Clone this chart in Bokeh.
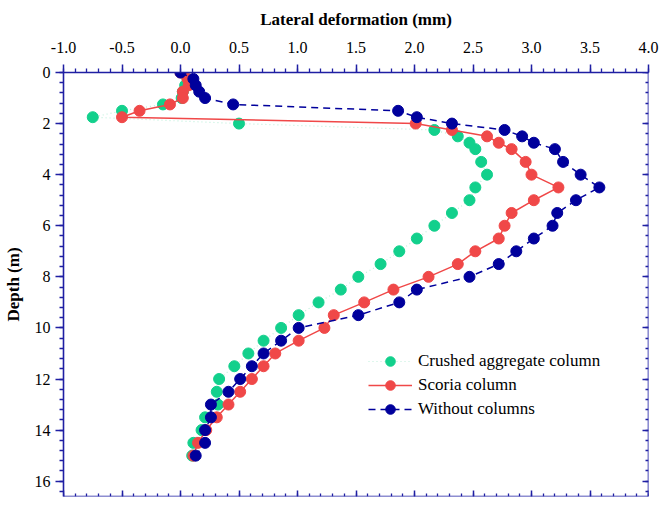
from bokeh.plotting import figure
from bokeh.models import (Range1d, LinearAxis, FixedTicker, Legend, LegendItem,
                          NumeralTickFormatter)
from bokeh.embed import file_html
from bokeh.resources import INLINE

# ---- data ----
depth = [0, 0.25, 0.5, 0.75, 1.0, 1.25, 1.5, 1.75, 2.0, 2.25, 2.5, 2.75, 3.0,
         3.5, 4.0, 4.5, 5.0, 5.5, 6.0, 6.5, 7.0, 7.5, 8.0, 8.5, 9.0, 9.5,
         10.0, 10.5, 11.0, 11.5, 12.0, 12.5, 13.0, 13.5, 14.0, 14.5, 15.0]

crushed = [0.02, 0.06, 0.04, 0.02, 0.01, -0.15, -0.50, -0.75, 0.50, 2.17, 2.37,
           2.47, 2.52, 2.57, 2.62, 2.52, 2.47, 2.32, 2.17, 2.02, 1.87, 1.71,
           1.52, 1.37, 1.18, 1.01, 0.86, 0.71, 0.58, 0.46, 0.33, 0.31, 0.32,
           0.21, 0.18, 0.11, 0.10]

scoria = [0.00, 0.06, 0.07, 0.02, 0.02, -0.09, -0.35, -0.50, 2.01, 2.32, 2.62,
          2.72, 2.83, 2.95, 3.00, 3.23, 3.02, 2.83, 2.77, 2.72, 2.52, 2.37,
          2.12, 1.82, 1.57, 1.31, 1.23, 1.01, 0.81, 0.71, 0.61, 0.51, 0.41,
          0.31, 0.22, 0.15, 0.11]

without = [0.00, 0.11, 0.13, 0.16, 0.21, 0.45, 1.86, 2.02, 2.32, 2.77, 2.92,
           3.02, 3.20, 3.27, 3.42, 3.58, 3.38, 3.22, 3.18, 3.02, 2.87, 2.72,
           2.47, 2.02, 1.87, 1.52, 1.01, 0.86, 0.71, 0.61, 0.51, 0.41, 0.26,
           0.26, 0.21, 0.21, 0.13]

labels = ["Crushed aggregate column", "Scoria column", "Without columns"]
x_ticks = [-1.0, -0.5, 0.0, 0.5, 1.0, 1.5, 2.0, 2.5, 3.0, 3.5, 4.0]
y_ticks = [0, 2, 4, 6, 8, 10, 12, 14, 16]

AX = "#1f1fa3"
GREEN = "#12d08c"
RED = "#f04848"
BLUE = "#00009c"
FONT = "Liberation Serif"

X0, X1 = -1.0, 4.0
Y_BOTTOM, Y_TOP = 16.6, 0.0

p = figure(width=664, height=498, output_backend="svg", toolbar_location=None,
           x_range=Range1d(X0, X1), y_range=Range1d(Y_BOTTOM, Y_TOP),
           x_axis_location="above", min_border_left=58, min_border_top=72,
           min_border_right=16, min_border_bottom=2)
p.outline_line_color = None
p.grid.visible = False
p.background_fill_color = "white"

xminor = [round(-1.0 + 0.1 * i, 2) for i in range(51)]
yminor = [round(0.4 * i, 2) for i in range(42)]

def style(ax, labels_on, inward, ticks):
    ax.axis_line_color = AX
    ax.axis_line_width = 1.6
    ax.major_tick_line_color = AX
    ax.minor_tick_line_color = AX
    ax.major_tick_line_width = 1.5
    ax.minor_tick_line_width = 1.3
    if inward:
        ax.major_tick_in = 6
        ax.major_tick_out = 0
        ax.minor_tick_in = 3
        ax.minor_tick_out = 0
    else:
        ax.major_tick_in = 0
        ax.major_tick_out = 8
        ax.minor_tick_in = 0
        ax.minor_tick_out = 4
    if labels_on:
        ax.major_label_text_font = FONT
        ax.major_label_text_font_size = "16px"
        ax.major_label_text_color = "black"
        ax.axis_label_text_font = FONT
        ax.axis_label_text_font_size = "17px"
        ax.axis_label_text_font_style = "bold"
        ax.axis_label_text_color = "black"
    else:
        ax.major_label_overrides = {t: "" for t in ticks}
        ax.major_label_standoff = 0
        ax.axis_label_standoff = 0
        ax.major_label_text_font_size = "1px"

xa = p.xaxis[0]
xa.ticker = FixedTicker(ticks=x_ticks, minor_ticks=xminor)
xa.formatter = NumeralTickFormatter(format="0.0")
xa.axis_label = "Lateral deformation (mm)"
xa.major_label_standoff = 12
xa.axis_label_standoff = 10
style(xa, True, False, x_ticks)

ya = p.yaxis[0]
ya.ticker = FixedTicker(ticks=y_ticks, minor_ticks=yminor)
ya.axis_label = "Depth (m)"
ya.major_label_standoff = 5
ya.axis_label_standoff = 9
style(ya, True, False, y_ticks)

ra = LinearAxis(ticker=FixedTicker(ticks=y_ticks, minor_ticks=yminor),
                fixed_location=X1)
style(ra, False, True, y_ticks)
p.add_layout(ra, "right")

ba = LinearAxis(ticker=FixedTicker(ticks=x_ticks, minor_ticks=xminor),
                fixed_location=Y_BOTTOM)
style(ba, False, True, x_ticks)
p.add_layout(ba, "below")

# ---- series ----
l1 = p.line(crushed, depth, line_color="#bff0dc", line_width=1.2, line_dash="1 3")
s1 = p.scatter(crushed, depth, size=11, fill_color=GREEN, line_color=GREEN)
l2 = p.line(scoria, depth, line_color=RED, line_width=1.5)
s2 = p.scatter(scoria, depth, size=11, fill_color=RED, line_color=RED)
l3 = p.line(without, depth, line_color=BLUE, line_width=1.5, line_dash="7 5")
s3 = p.scatter(without, depth, size=11, fill_color=BLUE, line_color=BLUE)

legend = Legend(items=[LegendItem(label=labels[0], renderers=[l1, s1]),
                       LegendItem(label=labels[1], renderers=[l2, s2]),
                       LegendItem(label=labels[2], renderers=[l3, s3])],
                location=(305, 75), orientation="vertical")
legend.border_line_color = None
legend.background_fill_alpha = 0
legend.padding = 0
legend.margin = 0
legend.spacing = 0
legend.glyph_width = 44
legend.glyph_height = 24
legend.label_height = 24
legend.label_standoff = 6
legend.label_text_font = FONT
legend.label_text_font_size = "17px"
legend.label_text_color = "black"
p.add_layout(legend)

open("out.html", "w").write(file_html(p, INLINE))
